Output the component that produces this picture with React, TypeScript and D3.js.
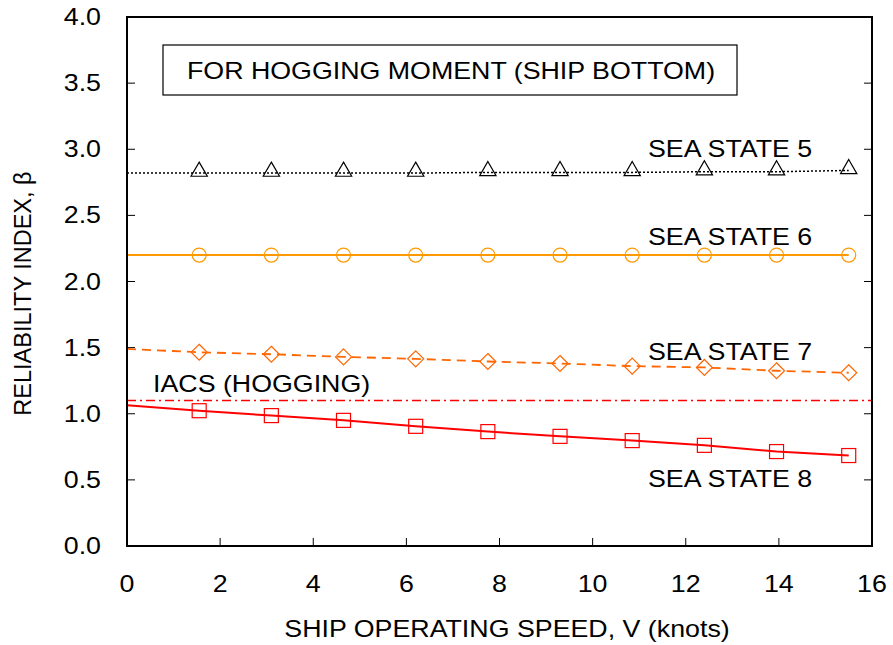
import React from 'react';
import * as d3 from 'd3';

// speeds at which the markers sit (knots)
const speeds = [1.55, 3.1, 4.65, 6.2, 7.75, 9.3, 10.85, 12.4, 13.95, 15.5];
// value of each line at V = 0 (lines start at the axis, no marker)
const startValues = { ss5: 2.82, ss6: 2.2, ss7: 1.49, ss8: 1.065 };

const seaState5 = [2.82, 2.82, 2.82, 2.82, 2.825, 2.825, 2.825, 2.83, 2.83, 2.84];
const seaState6 = [2.2, 2.2, 2.2, 2.2, 2.2, 2.2, 2.2, 2.2, 2.2, 2.2];
const seaState7 = [1.465, 1.45, 1.43, 1.415, 1.395, 1.38, 1.36, 1.35, 1.325, 1.31];
const seaState8 = [1.023, 0.986, 0.95, 0.905, 0.865, 0.829, 0.797, 0.761, 0.714, 0.684];
const iacsValue = 1.1;

const xTicks = [0, 2, 4, 6, 8, 10, 12, 14, 16];
const yTicks = [0, 0.5, 1.0, 1.5, 2.0, 2.5, 3.0, 3.5, 4.0];

const W = 893;
const H = 645;
const margin = { left: 127, right: 21, top: 17, bottom: 99 };
const FONT = 'Liberation Sans, Arial, sans-serif';
const FS = 23.5;
const SX = 1.14; // source figure is stretched a bit horizontally

// text with the horizontal stretch of the original
const SText: React.FC<{ x: number; y: number; anchor?: string; children: React.ReactNode }> = ({ x, y, anchor = 'start', children }) => (
  <text transform={`translate(${x},${y}) scale(${SX},1)`} fontSize={FS} textAnchor={anchor}>{children}</text>
);

const App: React.FC = () => {
  const x = d3.scaleLinear().domain([0, 16]).range([margin.left, W - margin.right]);
  const y = d3.scaleLinear().domain([0, 4]).range([H - margin.bottom, margin.top]);
  const line = d3.line<[number, number]>().x(d => x(d[0])).y(d => y(d[1]));

  const pts = (start: number, vals: number[]): [number, number][] =>
    [[0, start] as [number, number]].concat(speeds.map((s, i) => [s, vals[i]] as [number, number]));

  const tri = d3.symbol().type(d3.symbolTriangle).size(115)();
  const dia = (cx: number, cy: number) => {
    const r = 8;
    return `M${cx},${cy - r}L${cx + r},${cy}L${cx},${cy + r}L${cx - r},${cy}Z`;
  };

  const x0 = x(0), x1 = x(16), y0 = y(0), y1 = y(4);
  const tickLen = 8;

  return (
    <svg width={W} height={H} style={{ position: 'absolute', left: 0, top: 0, background: '#fff' }}
      fontFamily={FONT}>
      {/* axes ticks */}
      {xTicks.map(t => (
        <g key={'xt' + t}>
          <line x1={x(t)} x2={x(t)} y1={y0} y2={y0 - tickLen} stroke="#000" strokeWidth={1} />
          <SText x={x(t)} y={y0 + 46} anchor="middle">{t}</SText>
        </g>
      ))}
      {yTicks.map(t => (
        <g key={'yt' + t}>
          <line x1={x0} x2={x0 + tickLen} y1={y(t)} y2={y(t)} stroke="#000" strokeWidth={1} />
          <line x1={x1} x2={x1 - tickLen} y1={y(t)} y2={y(t)} stroke="#000" strokeWidth={1} />
          <SText x={101} y={y(t) + 8} anchor="end">{t.toFixed(1)}</SText>
        </g>
      ))}

      {/* IACS reference line */}
      <line x1={x0} x2={x1} y1={y(iacsValue)} y2={y(iacsValue)} stroke="#ff0000" strokeWidth={1.5}
        strokeDasharray="9,4,2,4" />

      {/* sea state 5 */}
      <path d={line(pts(startValues.ss5, seaState5)) || ''} fill="none" stroke="#000" strokeWidth={1.5}
        strokeDasharray="2,2" />
      {speeds.map((s, i) => (
        <path key={'a' + i} d={tri || ''} transform={`translate(${x(s)},${y(seaState5[i]) - 1.5})`}
          fill="none" stroke="#000" strokeWidth={1.2} />
      ))}

      {/* sea state 6 */}
      <path d={line(pts(startValues.ss6, seaState6)) || ''} fill="none" stroke="#ff9900" strokeWidth={2} />
      {speeds.map((s, i) => (
        <circle key={'c' + i} cx={x(s)} cy={y(seaState6[i])} r={7} fill="none" stroke="#ff9900" strokeWidth={1.2} />
      ))}

      {/* sea state 7 */}
      <path d={line(pts(startValues.ss7, seaState7)) || ''} fill="none" stroke="#ff6600" strokeWidth={1.8}
        strokeDasharray="9,6" />
      {speeds.map((s, i) => (
        <path key={'d' + i} d={dia(x(s), y(seaState7[i]))} fill="none" stroke="#ff6600" strokeWidth={1.2} />
      ))}

      {/* sea state 8 */}
      <path d={line(pts(startValues.ss8, seaState8)) || ''} fill="none" stroke="#ff0000" strokeWidth={2} />
      {speeds.map((s, i) => (
        <rect key={'s' + i} x={x(s) - 7} y={y(seaState8[i]) - 7} width={14} height={14}
          fill="none" stroke="#ff0000" strokeWidth={1.2} />
      ))}

      {/* frame */}
      <path d={`M${x0},${y1}V${y0}H${x1}V${y1}Z`} fill="none" stroke="#000" strokeWidth={2} />

      {/* labels */}
      <SText x={648} y={157}>SEA STATE 5</SText>
      <SText x={648} y={245}>SEA STATE 6</SText>
      <SText x={648} y={360}>SEA STATE 7</SText>
      <SText x={648} y={487}>SEA STATE 8</SText>
      <SText x={153} y={392}>IACS (HOGGING)</SText>

      <rect x={163} y={45} width={574} height={50} fill="#fff" stroke="#000" strokeWidth={1.2} />
      <SText x={451} y={79} anchor="middle">FOR HOGGING MOMENT (SHIP BOTTOM)</SText>

      <SText x={507} y={637} anchor="middle">SHIP OPERATING SPEED, V (knots)</SText>
      <text transform={`translate(31,${(y0 + y1) / 2 + 12}) rotate(-90)`} fontSize={FS} textAnchor="middle">
        RELIABILITY INDEX, β
      </text>
    </svg>
  );
};

export default App;
